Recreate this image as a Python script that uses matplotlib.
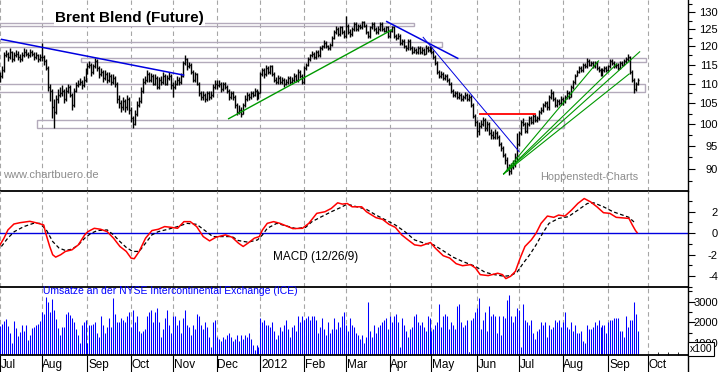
import numpy as np
import pandas as pd
import matplotlib
matplotlib.use('Agg')
import matplotlib.pyplot as plt
from matplotlib.collections import LineCollection
from matplotlib.patches import Rectangle
from matplotlib.lines import Line2D
from matplotlib.ticker import NullFormatter
from matplotlib.transforms import Bbox, TransformedBbox

plt.rcParams['font.family'] = ['Liberation Sans', 'DejaVu Sans']

# trading days Jul 2011 .. Sep 2012 (business days)
days = pd.bdate_range('2011-07-01', '2012-10-31')

# daily closes
close = [
    # Jul 2011
    112, 113.5, 117.5, 118, 117, 118.5, 116.5, 117.5, 118, 117, 116.5, 117.5, 118.5, 118, 117.5, 118.5, 118, 117, 117.5, 116.5, 117,
    # Aug
    117, 116, 114, 109, 108, 104, 103, 106, 107, 107.5, 108, 106, 108, 109, 107, 104.5, 108, 109.5, 110, 110.5, 109.5, 111, 113,
    # Sep
    114.5, 115, 113, 114.5, 116, 114, 112.5, 113, 111.5, 112.5, 111, 112, 110.5, 111.5, 110, 106, 105, 104, 105.5, 104, 106, 103.5,
    # Oct
    101.5, 100, 102.5, 104.5, 105.5, 108, 110.5, 111, 112.5, 111, 112, 110, 111.5, 109, 111, 110.5, 112, 110, 111.5, 112, 109.5,
    # Nov
    109, 110, 111, 110.5, 112, 115.5, 116.5, 114.5, 115, 113, 111, 112.5, 110, 107.5, 106.5, 107, 106, 107.5, 106.5, 107, 109, 110,
    # Dec
    109.5, 110, 108.5, 110, 109, 108, 106.5, 107.5, 106.5, 104.5, 103, 103.5, 102.5, 104.5, 106, 107, 106.5, 107.5, 107, 108, 106.5, 107.5,
    # Jan 2012
    112.5, 113.5, 112.5, 114, 113, 114.5, 112.5, 111, 110.5, 111.5, 110.5, 111, 110, 110.5, 111.5, 110.5, 111, 112, 111, 113, 112, 110.5,
    # Feb
    114, 115, 116.5, 117.5, 118, 117, 118.5, 117.5, 119.5, 120, 121, 120, 119.5, 120.5, 122.5, 124, 125, 123.5, 125.5, 124, 123,
    # Mar
    126, 124, 123.5, 125, 126.5, 125, 126, 125.5, 127, 126, 124, 123, 125.5, 126.5, 125, 124, 125, 126.5, 125, 124.5, 125.5, 123,
    # Apr
    124.5, 125.5, 123, 122.5, 123, 121, 121.5, 120, 119.5, 121.5, 119.5, 118.5, 119, 118.5, 119.5, 118.5, 119, 118, 119.5, 119, 119.5,
    # May
    118.5, 117, 115.5, 113, 112, 112.5, 111.5, 112, 111, 110, 108, 107, 107.5, 106.5, 107, 106, 106.5, 107, 106, 106.5, 104.5, 102, 100.5,
    # Jun
    98.5, 99.5, 100, 101, 99, 100, 98, 97.5, 97, 98, 97, 95.5, 94.5, 93, 92, 90, 89.5, 90.5, 91, 92.5, 95.5,
    # Jul
    98, 100.5, 100, 98.5, 100, 101.5, 100.5, 102, 101, 101.5, 103, 103.5, 104.5, 105, 104, 106.5, 107.5, 106, 104.5, 105.5, 105, 106,
    # Aug
    105.5, 106.5, 107.5, 106.5, 109, 110.5, 112, 113, 114, 113.5, 115, 114.5, 116, 115, 115.5, 114.5, 115.5, 114, 113.5, 112.5, 113.5, 114, 113.5,
    # Sep
    114.5, 116, 115.5, 114.5, 115, 114, 115.5, 115, 116, 116.5, 117, 113, 111, 108.5, 110, 111,
]
high = [
    113, 114.5, 118.5, 119, 118.5, 119.5, 118.8, 118.5, 119, 118.6, 117.8, 118.5, 119.5, 119.2, 118.5, 119.3, 119, 118.5, 118.5, 118, 118,
    121, 117.5, 116.5, 114.5, 110, 108.5, 106, 107, 108.5, 109, 109.5, 108.5, 109, 110, 109.5, 107.5, 108.8, 110.5, 111, 111.5, 111, 112, 114,
    115.5, 116, 115.5, 115.2, 116.8, 116.5, 114.5, 114, 113.5, 113.5, 113, 113, 112.5, 112.5, 112, 110.5, 107, 105.8, 106.5, 106, 107, 106.5,
    104, 102, 103.5, 105.5, 106.5, 109, 111.5, 112, 113.5, 113, 112.8, 112.5, 112.5, 112, 111.8, 112, 113, 112.5, 112.3, 113, 112.5,
    110.5, 110.8, 112, 111.8, 112.8, 116, 117.5, 116.8, 115.8, 115.5, 113.5, 113, 112.8, 110.5, 108, 108, 107.5, 108.2, 108, 108, 110, 111,
    111, 110.8, 110.5, 110.5, 110.5, 109.5, 108.5, 108.2, 108, 107, 105, 104.5, 104.2, 105, 107, 107.8, 107.5, 108, 108.2, 108.8, 108.5, 108.2,
    113, 114, 114, 114.8, 114.5, 115, 114.8, 113, 111.8, 112.2, 112, 111.8, 111.5, 111.3, 112, 112, 111.8, 112.7, 112.5, 113.8, 113.5, 112.5,
    114.5, 115.5, 117, 118, 118.8, 118.5, 119, 119, 120, 120.5, 121.8, 121.5, 120.5, 121, 123, 124.8, 125.8, 125.5, 126, 126, 124.8,
    128.8, 126.5, 125, 125.5, 127, 127, 126.5, 126.5, 127.5, 127.5, 126.5, 124.5, 126, 127, 127, 125.5, 125.8, 127, 127, 125.5, 126, 126,
    125, 126, 126, 123.5, 123.8, 123.5, 122.2, 122, 120.5, 122, 122, 120, 119.8, 119.5, 120.2, 120, 119.8, 119.5, 120.3, 120, 120.2,
    120, 119, 117.5, 116, 113.5, 113.2, 113, 112.5, 112.5, 111.5, 110.5, 108.5, 108.2, 108, 107.8, 107.5, 107.2, 107.8, 107.5, 107.3, 107, 105, 102.5,
    101, 100.5, 101, 101.8, 101.5, 100.8, 100.5, 98.8, 98.3, 98.8, 98.5, 97.5, 96, 95, 93.5, 92.5, 91, 91.2, 92, 93.5, 98,
    98.5, 101, 101.5, 100.5, 100.5, 102, 102, 102.5, 102.5, 102, 103.5, 104, 105, 105.5, 105.5, 107, 108.5, 108, 106.5, 106, 106, 106.8,
    106.5, 107, 108.3, 108, 109.5, 111, 112.5, 113.5, 114.5, 114.5, 115.5, 115.5, 116.8, 116.5, 116, 116, 116, 116, 114.5, 114, 114, 114.5, 114.5,
    115, 116.5, 116.5, 116, 115.5, 115.5, 116, 116, 116.5, 117, 118, 117.2, 113.5, 111.5, 110.5, 111.5,
]
low = [
    110.5, 111.5, 113, 117, 116, 116.5, 115.8, 116, 117, 116.2, 115.8, 116, 117, 117.2, 116.8, 117, 117.3, 116.3, 116.5, 115.8, 116,
    116, 114.8, 113.5, 108, 105.5, 101.5, 99, 102.5, 105, 106.5, 106.8, 105, 105.5, 107.5, 106.5, 103.5, 104, 107.8, 109, 109.5, 108.7, 109, 110.5,
    112.5, 114, 112, 112.5, 114, 113.2, 111.5, 112, 110.5, 111, 110.2, 110.5, 109.5, 110, 109, 105, 103.8, 103, 103.5, 103, 103.5, 102.5,
    100.5, 99, 99.8, 102, 104, 105, 107.5, 110, 110.5, 110.5, 110.5, 109.5, 109.5, 108.5, 108.5, 109.5, 110, 109.5, 109.5, 110.8, 108.5,
    106.5, 108.5, 109.5, 109.5, 110, 111.8, 115, 113.5, 114, 112.5, 110.5, 110.5, 109.5, 106.8, 105.8, 105.8, 105.3, 105.5, 105.8, 106, 106.5, 108.5,
    108.5, 109, 107.8, 108, 108.5, 107.5, 105.8, 106, 105.8, 103.8, 102.2, 102.5, 101.8, 102.3, 104, 105.5, 105.8, 106, 106.5, 106.8, 105.8, 106,
    107.5, 112, 111.5, 112, 112.5, 112.5, 112, 110.5, 109.8, 110, 109.8, 110, 109.2, 109.5, 110, 109.8, 110, 110.5, 110.5, 110.5, 111.5, 110,
    110, 113.5, 114.5, 116, 117, 116.5, 116.5, 117, 117, 119, 119.5, 119.5, 119, 119, 120, 122, 123.5, 123, 123, 123.5, 122.5,
    122.5, 123.5, 122.8, 123, 124.5, 124.5, 124.5, 125, 125, 125.5, 123.5, 122.5, 122.5, 125, 124.5, 123.5, 123.5, 124.5, 124.5, 124, 124, 122.5,
    122.5, 124, 122.5, 121.8, 122, 120.5, 120.5, 119.5, 118.8, 119, 119, 118, 118.2, 118, 118, 118, 118, 117.5, 117.8, 118.5, 118.5,
    118, 116.5, 115, 112.5, 111.5, 111.5, 111, 111, 110.5, 109.5, 107.5, 106.5, 106.5, 106, 106, 105.5, 105.5, 106, 105.5, 105.5, 104, 101.5, 99.5,
    97, 97.5, 99, 99.5, 98.5, 98.5, 97.5, 96.5, 96.5, 96.5, 96.5, 95, 93.8, 92.5, 91, 89.5, 88.7, 89, 90, 90.5, 92,
    95, 97.5, 99.5, 98, 98, 99.5, 100, 100, 100.5, 100.5, 101, 102.5, 103, 104, 103.5, 103.5, 106, 105.5, 104, 104, 104.5, 104.5,
    104.5, 105, 106, 106, 106.5, 108.5, 110, 112, 112.8, 113, 113, 114, 114, 114.5, 114.5, 114, 114, 113.5, 113, 112, 112, 113, 113,
    113, 114, 115, 114, 114, 113.5, 113.8, 114.5, 114.8, 115.5, 116, 112.5, 110.5, 107.5, 108, 109.5,
]
first_open = 111.0

# volume (in 100 contracts)
volume = [
    1830, 1920, 2080, 2170, 1830, 1500, 1000, 2080, 1750, 1330, 1530, 1870, 1580, 1870, 1170, 1420, 1750, 1800, 1900, 1920, 2050,
    2500, 2420, 3250, 3000, 2500, 3130, 2580, 2170, 1750, 1400, 1800, 1800, 2400, 2500, 2350, 2200, 2000, 1700, 1400, 1000, 1900, 2000, 2100,
    1000, 1900, 1900, 1950, 2000, 1500, 1300, 2300, 1900, 1500, 1800, 2200, 1800, 3200, 2400, 2000, 2000, 2200, 2100, 2000, 2300, 2500,
    1800, 2600, 2000, 2300, 1600, 1500, 1600, 1700, 2300, 2500, 2600, 2000, 2500, 2700, 2000, 1300, 1700, 2200, 2600, 1900, 1500,
    2300, 2300, 1900, 2100, 1500, 2200, 2600, 1900, 1800, 1400, 1900, 1700, 2400, 2300, 1900, 1700, 2000, 1800, 1300, 800, 2000, 2100,
    1300, 1200, 1100, 1300, 1200, 1400, 1500, 1300, 1100, 1200, 1400, 1100, 1400, 1200, 1400, 1300, 1500, 1200, 900, 700, 900, 800,
    2200, 2000, 2100, 1900, 1900, 1800, 2000, 1600, 1200, 1400, 1800, 1600, 1900, 2100, 1700, 1300, 1800, 1900, 1600, 2300, 2000, 2300,
    2100, 2200, 2300, 2100, 2300, 2300, 2100, 1500, 1800, 2200, 1700, 1400, 2000, 1500, 1700, 2200, 1700, 2000, 1800, 2300, 2500,
    1900, 1600, 2200, 1900, 1800, 1500, 1400, 1200, 1400, 1000, 1300, 3000, 1600, 1300, 1900, 1500, 1800, 1900, 2000, 2100, 2200, 1700,
    2300, 2000, 2300, 2400, 2000, 800, 2200, 1900, 1600, 1300, 1700, 1800, 2300, 2400, 2000, 1900, 2000, 1800, 1600, 2300, 2200,
    1600, 1700, 1900, 2000, 2900, 1800, 2300, 2400, 2300, 1700, 2000, 1900, 1700, 2800, 2900, 2000, 1800, 1900, 2100, 600, 2100, 2200, 2500,
    2700, 3200, 1700, 2100, 2500, 1600, 2800, 2300, 2400, 2300, 1500, 2300, 1400, 2300, 2200, 3100, 3300, 2300, 2000, 2300, 2700,
    2600, 800, 2900, 2100, 2000, 1900, 2100, 1500, 1200, 1600, 1700, 2000, 1900, 2000, 1300, 1900, 1700, 1800, 2100, 2000, 2100, 1800,
    2000, 2500, 1800, 1700, 2000, 1600, 1900, 1500, 1500, 1600, 1100, 1000, 1900, 1700, 1700, 1800, 2000, 1900, 2100, 1800, 1900, 1900, 1500,
    2000, 2100, 2100, 2200, 2200, 2200, 1600, 1600, 1300, 2300, 1800, 2100, 2100, 3000, 2400, 1600,
]

# MACD (12/26/9) line and signal, read at trading-day positions
macd_day = [0, 2, 4, 7, 10, 15, 18, 22, 23, 25, 26.5, 28, 30.5, 32.9, 36.2, 39.4, 42.6, 44.2, 47.4, 50.6,
            53.9, 57.1, 60.3, 63.5, 65.9, 67.5, 70, 73.2, 76.4, 79.6, 82.8, 86.1, 89.3, 92.5, 95.7, 98.9,
            102.2, 105.4, 108.6, 113.4, 116.7, 119.9, 122.3, 124.7, 127.9, 130.4, 132, 134.4, 137.6, 140.8,
            144, 147.3, 152.1, 155.3, 159.3, 163.4, 166.6, 169.8, 172.2, 174.6, 177.1, 181.9, 184.3, 189.1,
            192.4, 195.6, 198.8, 202, 205.2, 208.5, 211.7, 216.5, 218.9, 222.9, 226.2, 229.4, 232.6, 236.6,
            239.1, 241.5, 245.5, 250.3, 252.7, 254.4, 256.8, 259.2, 261.6, 264, 267.2, 269.6, 272.1, 275.3,
            278.5, 280.9, 284.1, 287.4, 290.6, 293.8, 297, 300.2, 303.5, 306.7, 309.9, 316.3, 318, 319.6, 320.4]
macd_val = [-1.08, -0.46, 0.31, 0.86, 0.98, 1.11, 0.98, 0.77, 0, -1.23, -2.0, -2.22, -2.0, -1.69, -1.54, -1.08, -0.15, 0.15, 0.46, 0.37,
            0.15, -0.46, -1.23, -1.69, -2.31, -2.37, -1.69, -0.46, 0.25, 0.37, 0.62, 0.55, 0.46, 1.08, 1.08, 0.62,
            -0.31, -0.71, -0.37, -0.15, -0.37, -0.92, -1.23, -0.92, -0.46, -0.31, 0.31, 0.92, 1.08, 0.92,
            0.68, 0.43, 0.46, 0.92, 1.85, 2.0, 2.31, 2.83, 2.71, 2.77, 2.46, 2.46, 2.0, 1.45,
            1.29, 0.83, 0.55, -0.15, -0.62, -1.08, -1.17, -0.86, -1.38, -2.09, -2.31, -2.83, -3.02, -2.92,
            -3.23, -3.85, -3.94, -3.72, -3.85, -4.22, -4.0, -3.54, -2.31, -1.23, -0.62, 0, 0.92, 1.6,
            1.48, 1.69, 1.6, 2.15, 2.77, 3.23, 2.92, 2.46, 1.91, 1.85, 1.48, 1.38, 0.77, 0.25, 0.06]
signal_day = [0.7, 3.9, 7.2, 12, 16.8, 20, 23.3, 26.5, 29.7, 32.9, 36.2, 39.4, 42.6, 45.8, 49, 53.9, 57.1, 60.3,
              63.5, 66.7, 70, 73.2, 76.4, 79.6, 84.5, 89.3, 94.1, 98.9, 103.8, 107, 111.8, 116.7, 119.9, 124.7,
              129.5, 132, 134.4, 139.2, 144, 148.9, 153.7, 156.9, 161.7, 166.6, 171.4, 174.6, 179.5, 184.3,
              189.1, 194, 198.8, 203.6, 208.5, 213.3, 218.1, 222.9, 227.8, 232.6, 239.1, 243.9, 248.7, 253.5,
              256.8, 260, 263.2, 266.4, 269.6, 272.9, 276.1, 280.9, 285.8, 290.6, 295.4, 298.6, 303.5, 308.3,
              313.1, 316.3, 319.6]
signal_val = [-1.23, -0.46, 0.15, 0.62, 0.92, 0.92, 0.31, -0.77, -1.38, -1.6, -1.48, -1.08, -0.46, 0, 0.25, 0.31, -0.15, -0.77,
              -1.32, -1.69, -1.69, -0.92, -0.15, 0.15, 0.37, 0.62, 0.92, 0.83, 0.15, -0.31, -0.31, -0.31, -0.68, -0.83,
              -0.62, -0.15, 0.46, 0.92, 0.68, 0.43, 0.55, 1.08, 1.54, 2.0, 2.4, 2.71, 2.46, 2.22,
              1.69, 1.23, 0.77, 0.15, -0.62, -0.92, -1.08, -1.63, -2.22, -2.62, -3.08, -3.63, -3.85, -4.0,
              -3.94, -3.63, -2.77, -2.0, -1.08, 0, 0.92, 1.38, 1.54, 2.15, 2.77, 2.83, 2.46, 2.0,
              1.69, 1.48, 0.92]

# support / resistance zones: (start day, end day, low price, high price)
zones = [(-2, 208, 126.0, 126.9),
         (-2, 222.5, 119.8, 121.2),
         (40.8, 325, 115.8, 116.9),
         (-2, 324.6, 107.8, 109.9),
         (18.6, 283.7, 99.2, 100.9)]

# trend lines: ((day, price), (day, price))
blue_lines = [((0.8, 122.0), (92.3, 112.2)),
              ((194.5, 127.2), (230.2, 116.7))]
blue_thin = [((212.8, 122.6), (261.0, 93.8))]
green_lines = [((115.0, 101.3), (196.9, 124.7))]
red_lines = [((241.2, 102.4), (269.2, 102.4))]
fan_origin = (253.3, 89.0)
fan_ends = [(301.0, 116.0), (310.2, 115.2), (321.7, 118.5), (316.4, 112.5)]

month_labels = ['Jul', 'Aug', 'Sep', 'Oct', 'Nov', 'Dec', '2012', 'Feb', 'Mar',
                'Apr', 'May', 'Jun', 'Jul', 'Aug', 'Sep', 'Oct']

price_ticks = [90, 95, 100, 105, 110, 115, 120, 125, 130]
macd_ticks = [-4, -2, 0, 2]
vol_ticks = [1000, 2000, 3000]

# ---------------------------------------------------------------
W, H = 723, 372
fig = plt.figure(figsize=(W / 100, H / 100), dpi=100)
fig.patch.set_facecolor('white')

right = 688 / W
ax1 = fig.add_axes([0, 1 - 191 / H, right, 191 / H])
ax2 = fig.add_axes([0, 1 - 287 / H, right, 96 / H], sharex=ax1)
ax3 = fig.add_axes([0, 1 - 355 / H, right, 68 / H], sharex=ax1)

n = len(close)
xs = np.arange(n)
month_start = [i for i in range(1, len(days)) if days[i].month != days[i - 1].month]
month_start = [0] + month_start
month_start = month_start[:len(month_labels)]
mondays = [i for i in range(len(days)) if days[i].weekday() == 0]

# price bars
opens = [first_open] + close[:-1]
segs = []
for i in range(n):
    segs.append([(i, low[i]), (i, high[i])])
    segs.append([(i - 0.5, opens[i]), (i, opens[i])])
    segs.append([(i, close[i]), (i + 0.5, close[i])])
ax1.add_collection(LineCollection(segs, colors='black', linewidths=1.0, zorder=3))

for d0, d1, p0, p1 in zones:
    ax1.add_patch(Rectangle((d0, p0), d1 - d0, p1 - p0, fill=False,
                            edgecolor='#b3aabb', lw=1.0, zorder=2))

for (a, b) in blue_lines:
    ax1.plot([a[0], b[0]], [a[1], b[1]], color='#0000e0', lw=1.1, zorder=4)
for (a, b) in blue_thin:
    ax1.plot([a[0], b[0]], [a[1], b[1]], color='#0000e0', lw=0.7, zorder=4)
for (a, b) in green_lines:
    ax1.plot([a[0], b[0]], [a[1], b[1]], color='#009900', lw=1.0, zorder=4)
for (a, b) in red_lines:
    ax1.plot([a[0], b[0]], [a[1], b[1]], color='#ff0000', lw=1.3, zorder=4)
for e in fan_ends:
    ax1.plot([fan_origin[0], e[0]], [fan_origin[1], e[1]], color='#009900', lw=0.8, zorder=4)

ax1.set_yscale('log')
ax1.set_ylim(85.5, 133.8)
ax1.set_xlim((0 + 1.6) / 2.075, (688 + 1.6) / 2.075)

# MACD
ax2.axhline(0, color='#0000e0', lw=1.0, zorder=2)
ax2.plot(macd_day, macd_val, color='#ff0000', lw=1.1, zorder=4)
ax2.plot(signal_day, signal_val, color='black', lw=0.9, ls=(0, (3, 2)), zorder=3)
ax2.set_ylim(-5.0, 3.93)

# volume
ax3.vlines(xs, 0, volume, color='#0000ff', lw=0.75)
ax3.set_ylim(437, 3707)

# month grid
for ax in (ax1, ax2, ax3):
    for m in month_start:
        ax.axvline(m, color='#a6a6a6', lw=0.8, ls=(0, (4, 3)), zorder=1)
    for s in ('left', 'top'):
        ax.spines[s].set_visible(False)
    ax.spines['right'].set_linewidth(1.0)
    ax.spines['bottom'].set_linewidth(1.3)
    ax.yaxis.tick_right()
    ax.tick_params(axis='y', which='major', length=5, width=0.8, labelsize=8, pad=16.6)
    ax.tick_params(axis='y', which='minor', length=3, width=0.8)
    ax.set_facecolor('none')

ax1.set_yticks(price_ticks, [str(t) for t in price_ticks])
ax1.set_yticks(np.arange(87.5, 133, 2.5), minor=True)
ax1.yaxis.set_minor_formatter(NullFormatter())
ax2.set_yticks(macd_ticks, [str(t) for t in macd_ticks])
ax2.set_yticks([-5, -3, -1, 1, 3], minor=True)
ax3.set_yticks(vol_ticks, [str(t) for t in vol_ticks])
ax3.set_yticks([500, 1500, 2500, 3500], minor=True)
for ax in (ax1, ax2, ax3):
    for lab in ax.get_yticklabels():
        lab.set_horizontalalignment('right')

for ax in (ax1, ax2):
    ax.tick_params(axis='x', which='both', bottom=False, labelbottom=False)

ax3.set_xticks(month_start, [''] * len(month_start))
ax3.set_xticks(mondays, minor=True)
ax3.tick_params(axis='x', which='major', length=12.2, width=0.8, direction='out')
ax3.tick_params(axis='x', which='minor', length=2, width=0.6, direction='in')

clip = TransformedBbox(Bbox.from_extents(0, 0, right, 1), fig.transFigure)
trans = ax3.get_xaxis_transform()
for m, lab in zip(month_start, month_labels):
    t = ax3.text(m + 0.3, -10 / 68, lab, transform=trans, ha='left', va='center',
                 fontsize=8.5, color='black')
    t.set_clip_box(clip)
    t.set_clip_on(True)

# right axis line continues below the volume panel
fig.add_artist(Line2D([right, right], [0, 17 / H], transform=fig.transFigure,
                      color='black', lw=1.0))

# texts
fig.text(55 / W, 1 - 18 / H, 'Brent Blend (Future)', fontsize=11, fontweight='bold',
         ha='left', va='center', bbox=dict(facecolor='white', edgecolor='none', pad=1), zorder=10)
fig.text(3 / W, 1 - 175 / H, 'www.chartbuero.de', fontsize=8, color='#8c8c8c',
         ha='left', va='center')
fig.text(540 / W, 1 - 177 / H, 'Hoppenstedt-Charts', fontsize=7.8, color='#8c8c8c',
         ha='left', va='center')
fig.text(273 / W, 1 - 257 / H, 'MACD (12/26/9)', fontsize=8.5, color='black',
         ha='left', va='center')
fig.text(43 / W, 1 - 291 / H, 'Umsatze an der NYSE Intercontinental Exchange (ICE)',
         fontsize=7.5, color='#0000ff', ha='left', va='center', zorder=10)
fig.text(690 / W, 1 - 349 / H, 'x100', fontsize=7.5, ha='left', va='center', zorder=10,
         bbox=dict(boxstyle='square,pad=0.15', facecolor='white', edgecolor='black', lw=0.8))

fig.savefig('out.png', dpi=100)
